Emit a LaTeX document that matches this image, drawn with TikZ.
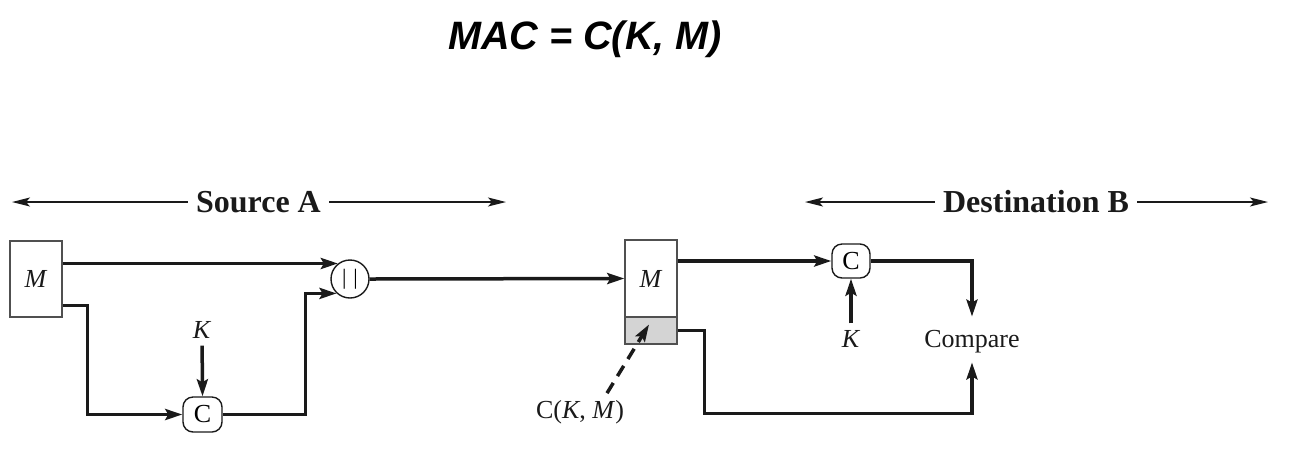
\documentclass[tikz,border=0pt]{standalone}
\usepackage{fontspec}
\setmainfont{Liberation Serif}
\newfontfamily\titlefont{Liberation Sans}
\usetikzlibrary{arrows.meta,calc}
\definecolor{ink}{HTML}{1A1A1A}
\definecolor{boxline}{HTML}{505050}
\definecolor{tagfill}{HTML}{D4D4D4}
\begin{document}
\begin{tikzpicture}[x=0.5pt,y=-0.5pt,
  conn/.style={line width=1.75pt, draw=ink, line join=miter, -{Stealth[length=8.5pt,width=5.5pt,inset=1.5pt]}},
  hdrline/.style={line width=0.7pt, draw=ink, -{Stealth[length=9pt,width=4.5pt,inset=2pt]}},
  hdr/.style={font=\fontsize{16}{18}\selectfont\bfseries, inner sep=4pt, text=ink},
  msgbox/.style={draw=boxline, line width=0.7pt, minimum width=26pt, inner sep=0pt},
  fnbox/.style={draw=ink, line width=0.7pt, rounded corners=5pt, minimum width=19.5pt, minimum height=17.5pt, inner sep=0pt, font=\fontsize{13}{15}\selectfont},
  lbl/.style={font=\fontsize{13}{15}\selectfont, text=ink},
]
\useasboundingbox (0,0) rectangle (1300,468);

% title
\node[font=\titlefont\fontsize{19.8}{22}\selectfont\bfseries\itshape] (title) at (585,39) {MAC = C(K, M)};

% headers
\node[hdr] (srcA) at (258.5,202) {Source A};
\coordinate (srcL) at (12,202);
\coordinate (srcR) at (506,202);
\draw[hdrline] (srcA.west) -- (srcL);
\draw[hdrline] (srcA.east) -- (srcR);

\node[hdr] (dstB) at (1036,202) {Destination B};
\coordinate (dstL) at (805,202);
\coordinate (dstR) at (1268,202);
\draw[hdrline] (dstB.west) -- (dstL);
\draw[hdrline] (dstB.east) -- (dstR);

% source side
\node[msgbox, minimum height=38pt, lbl] (Ms) at (36,279) {\textit{M}};
\node[draw=ink, line width=0.7pt, circle, minimum size=19pt, inner sep=0pt, font=\fontsize{11}{12}\selectfont] (cat) at (350,279) {|\hspace{3.5pt}|};
\node[fnbox] (Cs) at (202.5,414.5) {C};
\node[lbl] (Ks) at (202,330) {\textit{K}};

\draw[conn] (Ms.east |- cat.128) -- (cat.128);
\draw[conn] ([yshift=6pt]Ms.south east) -- ++(25,0) |- (Cs.west);
\draw[conn] (Ks) -- (Cs.north);
\draw[conn] (Cs.east) -- ++(83,0) |- (cat.227);

% transmitted message
\node[msgbox, minimum height=38.5pt, lbl] (Mm) at (651,278.5) {\textit{M}};
\node[msgbox, minimum height=13.5pt, fill=tagfill] (tag) at (651,330.5) {};
\draw[conn] (cat.east) -- (Mm.west);

\node[lbl] (lab) at (580,412) {C(\textit{K}, \textit{M})};
\draw[line width=1.75pt, draw=ink, dash pattern=on 6pt off 4pt, -{Stealth[length=8.5pt,width=5.5pt,inset=1.5pt]}] ([xshift=13.5pt]lab.north) -- ([xshift=-1pt,yshift=3pt]tag.center);

% destination side
\node[fnbox, minimum width=19pt, minimum height=17pt] (Cd) at (851,261) {C};
\node[lbl] (Kd) at (851,339) {\textit{K}};
\node[lbl, text height=10pt, text depth=2.5pt, minimum height=22.5pt, inner sep=0pt] (cmp) at (972,339.5) {Compare};

\draw[conn] (Mm.east |- Cd.west) -- (Cd.west);
\draw[conn] (Kd) -- (Cd.south);
\draw[conn] (Cd.east) -| (cmp.north);
\draw[conn] (tag.east) -- ++(27,0) -- ++(0,83) -| (cmp.south);
\end{tikzpicture}
\end{document}
